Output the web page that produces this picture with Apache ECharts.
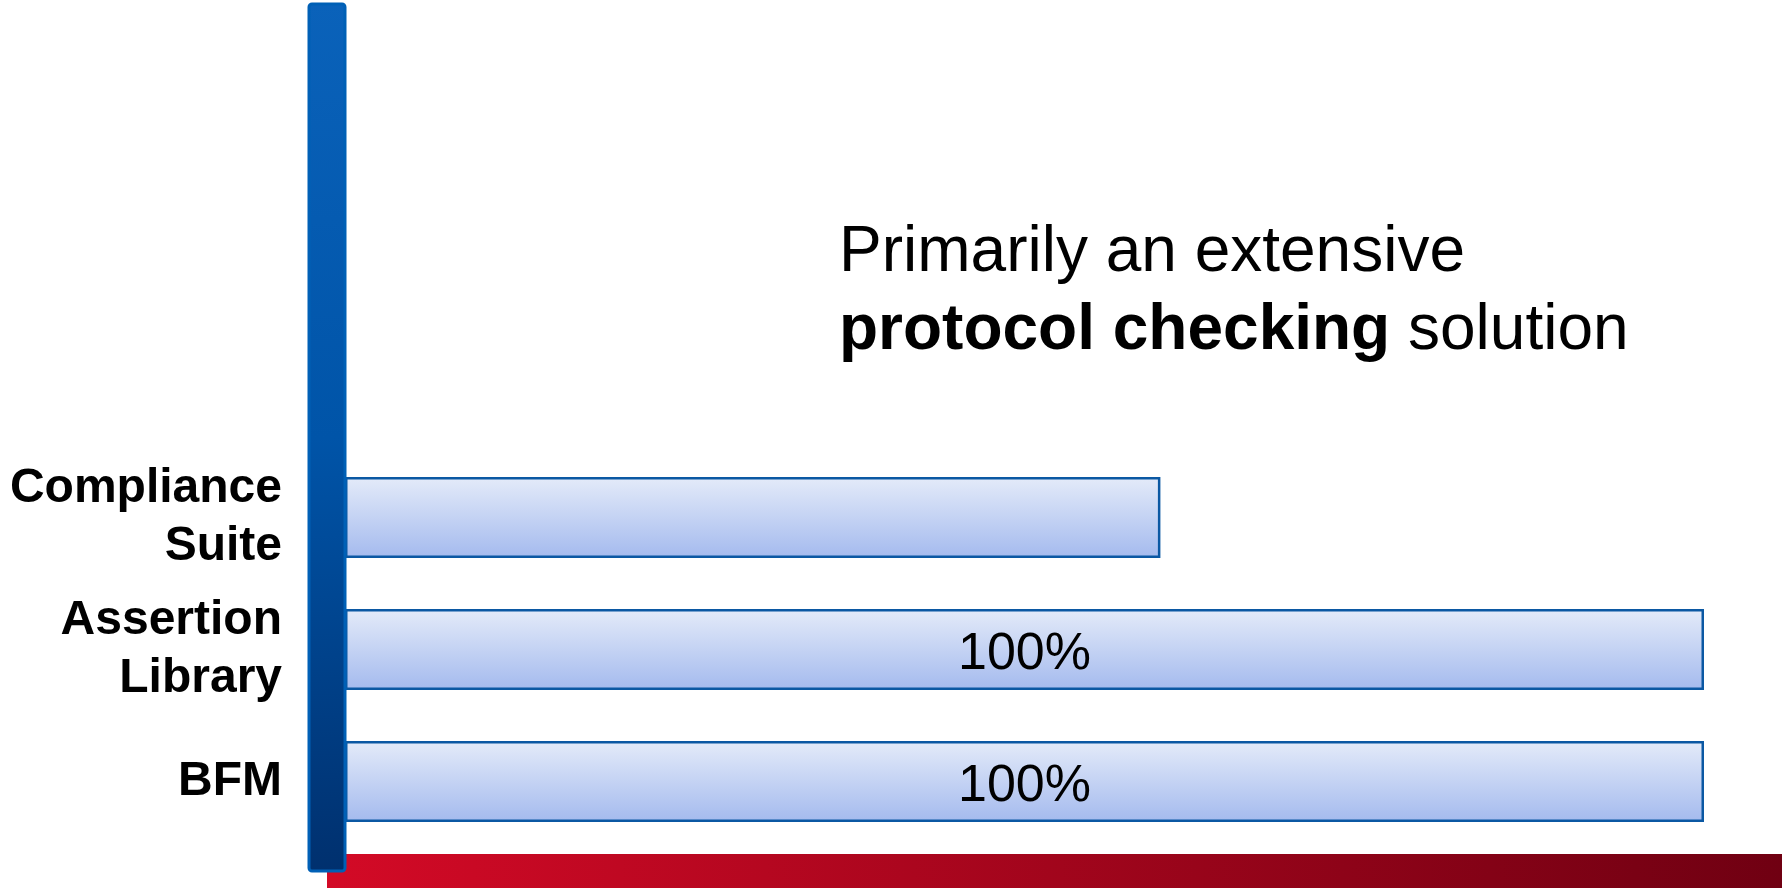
<!DOCTYPE html>
<html>
<head>
<meta charset="utf-8">
<title>Protocol checking coverage</title>
<script src="https://cdn.jsdelivr.net/npm/echarts@6/dist/echarts.min.js"></script>
<style>
  html, body { margin: 0; padding: 0; background: #fff; }
  #chart { width: 1782px; height: 888px; }
</style>
</head>
<body>
<div id="chart"></div>
<script>
// data (bottom to top)
const categories = ['BFM', 'Assertion\nLibrary', 'Compliance\nSuite'];
const coverage = [100, 100, 60];
const showLabel = [true, true, false];
const noteLine1 = 'Primarily an extensive';
const noteBold = 'protocol checking';
const noteRest = ' solution';

const font = '"Liberation Sans", Arial, sans-serif';

const chart = echarts.init(document.getElementById('chart'), null, {renderer: 'canvas'});

const barFill = new echarts.graphic.LinearGradient(0, 0, 0, 1, [
  {offset: 0, color: '#e4ebf9'},
  {offset: 1, color: '#a4baee'}
]);

chart.setOption({
  animation: false,
  backgroundColor: '#fff',
  title: {
    left: 834,
    top: 209,
    text: '{n|' + noteLine1 + '}\n{b|' + noteBold + '}{n|' + noteRest + '}',
    textStyle: {
      fontWeight: 'normal',
      rich: {
        n: {fontFamily: font, fontSize: 64, lineHeight: 78, color: '#000', fontWeight: 'normal'},
        b: {fontFamily: font, fontSize: 64, lineHeight: 78, color: '#000', fontWeight: 'bold'}
      }
    }
  },
  grid: {left: 345, right: 78, top: 451.5, bottom: 40.5},
  xAxis: {
    type: 'value',
    min: 0,
    max: 100,
    show: false
  },
  yAxis: {
    type: 'category',
    data: categories,
    axisLine: {show: false},
    axisTick: {show: false},
    axisLabel: {
      margin: 63,
      align: 'right',
      fontFamily: font,
      fontSize: 48,
      fontWeight: 'bold',
      lineHeight: 58,
      color: '#000'
    }
  },
  series: [{
    type: 'bar',
    barWidth: 81,
    data: coverage.map((v, i) => ({value: v, label: {show: showLabel[i]}})),
    itemStyle: {
      color: barFill,
      borderColor: '#0b58a3',
      borderWidth: 2.5
    },
    label: {
      position: 'inside',
      offset: [0, 5],
      formatter: '{c}%',
      fontFamily: font,
      fontSize: 52,
      color: '#000'
    }
  }],
  graphic: [
    {
      // red base strip
      type: 'rect',
      z: 50,
      shape: {x: 327, y: 854, width: 1455, height: 34},
      style: {
        fill: new echarts.graphic.LinearGradient(0, 0, 1, 0, [
          {offset: 0, color: '#d30a26'},
          {offset: 1, color: '#700012'}
        ])
      }
    },
    {
      // blue upright
      type: 'rect',
      z: 60,
      shape: {x: 309, y: 4, width: 36, height: 867, r: 3},
      style: {
        fill: new echarts.graphic.LinearGradient(0, 0, 1, 1, [
          {offset: 0, color: '#0a62ba'},
          {offset: 0.5, color: '#0054a8'},
          {offset: 1, color: '#00306e'}
        ]),
        stroke: '#0060b6',
        lineWidth: 3
      }
    }
  ]
});

window.addEventListener('resize', () => chart.resize());
</script>
</body>
</html>
